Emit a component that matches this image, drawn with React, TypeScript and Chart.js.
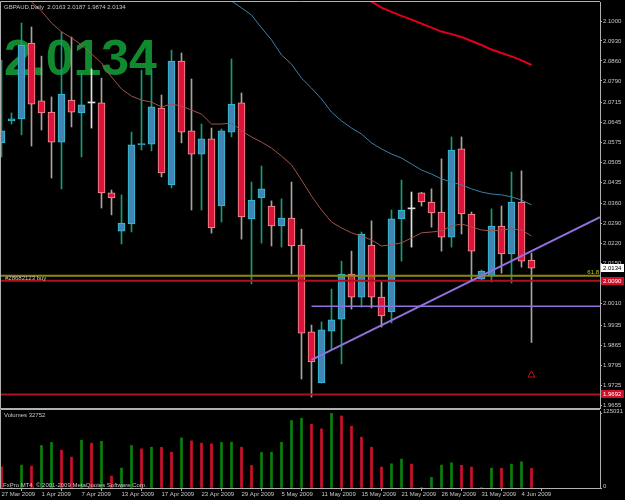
import React, { useEffect, useRef } from 'react';
import { Chart, registerables } from 'chart.js';

Chart.register(...registerables);

// ---------------- data ----------------
const symbolName = 'GBPAUD,Daily';
const xTickLabels = ['27 Mar 2009', '1 Apr 2009', '7 Apr 2009', '13 Apr 2009', '17 Apr 2009', '23 Apr 2009', '29 Apr 2009', '5 May 2009', '11 May 2009', '15 May 2009', '21 May 2009', '26 May 2009', '31 May 2009', '4 Jun 2009'];
const barsPerLabel = 4;

const opens = [2.0573, 2.0650, 2.0657, 2.0923, 2.0720, 2.0681, 2.0576, 2.0723, 2.0678, 2.0713,
  2.0713, 2.0398, 2.0264, 2.0289, 2.0567, 2.0569, 2.0695, 2.0426, 2.0860, 2.0615,
  2.0534, 2.0587, 2.0352, 2.0611, 2.0713, 2.0307, 2.0380, 2.0352, 2.0282, 2.0310,
  2.0215, 1.9911, 1.9732, 1.9914, 1.9956, 2.0114, 2.0033, 2.0215, 2.0033, 1.9981,
  2.0307, 2.0342, 2.0398, 2.0366, 2.0331, 2.0243, 2.0552, 2.0324, 2.0096, 2.0107,
  2.0282, 2.0184, 2.0366, 2.0163];
const highs = [2.0863, 2.0678, 2.0993, 2.0979, 2.0877, 2.0734, 2.0962, 2.0944, 2.0818, 2.0832,
  2.0800, 2.0408, 2.0391, 2.0611, 2.0828, 2.0828, 2.0741, 2.0898, 2.0888, 2.0797,
  2.0639, 2.0625, 2.0622, 2.0867, 2.0748, 2.0436, 2.0492, 2.0370, 2.0377, 2.0436,
  2.0271, 1.9935, 1.9946, 2.0061, 2.0159, 2.0194, 2.0261, 2.0300, 2.0086, 2.0338,
  2.0443, 2.0401, 2.0400, 2.0412, 2.0517, 2.0594, 2.0594, 2.0331, 2.0128, 2.0342,
  2.0352, 2.0471, 2.0475, 2.0187];
const lows = [2.0524, 2.0639, 2.0601, 2.0562, 2.0618, 2.0450, 2.0412, 2.0629, 2.0524, 2.0625,
  2.0345, 2.0321, 2.0219, 2.0261, 2.0548, 2.0545, 2.0454, 2.0415, 2.0573, 2.0338,
  2.0338, 2.0257, 2.0296, 2.0594, 2.0236, 2.0079, 2.0222, 2.0212, 2.0208, 2.0114,
  1.9746, 1.9683, 1.9732, 1.9851, 1.9799, 1.9991, 1.9998, 1.9995, 1.9928, 1.9942,
  2.0159, 2.0208, 2.0352, 2.0278, 2.0194, 2.0208, 2.0254, 2.0093, 2.0093, 2.0086,
  2.0117, 2.0082, 2.0138, 1.9874];
const closes = [2.0615, 2.0657, 2.0916, 2.0709, 2.0678, 2.0576, 2.0744, 2.0681, 2.0706, 2.0713,
  2.0398, 2.0380, 2.0292, 2.0566, 2.0569, 2.0699, 2.0468, 2.0860, 2.0611, 2.0534,
  2.0587, 2.0275, 2.0615, 2.0709, 2.0314, 2.0373, 2.0412, 2.0282, 2.0310, 2.0212,
  1.9907, 1.9806, 1.9918, 1.9953, 2.0114, 2.0033, 2.0254, 2.0033, 1.9967, 2.0307,
  2.0338, 2.0342, 2.0366, 2.0328, 2.0243, 2.0548, 2.0324, 2.0194, 2.0124, 2.0282,
  2.0184, 2.0366, 2.0159, 2.0134];
const volumes = [35500, 800, 38300, 36700, 71200, 76200, 63300, 51700, 80000, 75000,
  78300, 20000, 33300, 71200, 65500, 68300, 68000, 60000, 83900, 78900,
  75000, 73900, 76200, 76700, 68300, 37800, 59500, 60000, 76700, 112900,
  116700, 106700, 98900, 125031, 120500, 103400, 85000, 68300, 35000, 40500,
  48300, 40000, 700, 17800, 38300, 42200, 38000, 35000, 600, 33300,
  33000, 40000, 43900, 32752];
const prevVolume = 41000;

const maFastStart = 2;
const maFast = [2.1102, 2.1067, 2.1035, 2.0993, 2.0962, 2.0941, 2.0916, 2.0885, 2.0853, 2.0804,
  2.0762, 2.0737, 2.0723, 2.0716, 2.0699, 2.0709, 2.0702, 2.0688, 2.0674, 2.0639,
  2.0639, 2.0643, 2.0615, 2.0594, 2.0576, 2.0555, 2.0527, 2.0496, 2.0443, 2.0387,
  2.0338, 2.0296, 2.0275, 2.0258, 2.0247, 2.0233, 2.0212, 2.0216, 2.0223, 2.0240,
  2.0258, 2.0261, 2.0265, 2.0282, 2.0289, 2.0279, 2.0268, 2.0265, 2.0268, 2.0272,
  2.0268, 2.0247];
const maMidStart = 22;
const maMid = [2.1091, 2.1070, 2.1046, 2.1021, 2.0976, 2.0934, 2.0881, 2.0849, 2.0800, 2.0765,
  2.0727, 2.0681, 2.0650, 2.0625, 2.0604, 2.0573, 2.0552, 2.0534, 2.0520, 2.0499,
  2.0478, 2.0464, 2.0447, 2.0436, 2.0426, 2.0412, 2.0401, 2.0394, 2.0391, 2.0384,
  2.0373, 2.0356];
const maSlowStart = 36;
const maSlow = [2.1084, 2.1068, 2.1047, 2.1032, 2.1018, 2.1005, 2.0991, 2.0977, 2.0963, 2.0954,
  2.0944, 2.0930, 2.0916, 2.0900, 2.0888, 2.0876, 2.0862, 2.0846];

const priceTicks = [2.1, 2.093, 2.086, 2.079, 2.0715, 2.0645, 2.0575, 2.0505, 2.0435, 2.036,
  2.029, 2.022, 2.015, 2.008, 2.001, 1.9935, 1.9865, 1.9795, 1.9725, 1.9655];
const stopLevels = [2.0090, 1.9692];
const fiboLevel = 2.0108;
const fiboText = '61.8';
const orderText = '#28682123 buy';
const supportLevel = 2.0001;
const supportStart = 31;
const trendX = [31, 59.85];
const trendY = [1.9813, 2.0313];
const arrowX = [53];
const arrowY = [1.9760];
const volumeTicks = [0, 125031];
const copyright = 'FxPro MT4, \u00a9 2001-2009 MetaQuotes Software Corp.';

// ---------------- ranges & styles ----------------
const X_MIN = -0.15;
const X_MAX = 59.85;
const PRICE_MIN = 1.96445;
const PRICE_MAX = 2.10666;
const VOL_MAX = 128900;

const FONT = '"Liberation Sans", Arial, sans-serif';
const TEXT = '#c8c8c8';
const FRAME = '#b0b0b0';
const BULL_FILL = '#4682b4';
const BULL_EDGE = '#2fc6d6';
const BULL_WICK = '#169a7a';
const BEAR_FILL = '#dc143c';
const BEAR_EDGE = '#f29a9a';
const BEAR_WICK = '#a8a49c';
const DOJI = '#e0e0e0';

const n = opens.length;
const idx = opens.map((_, i) => i);
const dir = idx.map((i) => (closes[i] > opens[i] ? 1 : closes[i] < opens[i] ? -1 : 0));

function lineDs(data: any[], color: string, width: number) {
  return {
    type: 'line',
    data,
    borderColor: color,
    borderWidth: width,
    pointRadius: 0,
    fill: false,
    tension: 0,
    clip: 0,
    order: -1,
  };
}

const mainOverlay = {
  id: 'mainOverlay',
  beforeDatasetsDraw(chart: any) {
    const { ctx, chartArea } = chart;
    ctx.save();
    ctx.font = `bold 50px ${FONT}`;
    ctx.fillStyle = '#11892e';
    ctx.textAlign = 'left';
    ctx.textBaseline = 'alphabetic';
    ctx.fillText(closes[n - 1].toFixed(4), chartArea.left + 4, 75);
    ctx.restore();
  },
  afterDraw(chart: any) {
    const { ctx, chartArea: a, scales } = chart;
    const y = scales.y;
    ctx.save();
    ctx.strokeStyle = FRAME;
    ctx.lineWidth = 1;
    ctx.beginPath();
    ctx.moveTo(a.left + 0.5, a.bottom + 0.5);
    ctx.lineTo(a.left + 0.5, a.top - 0.5);
    ctx.lineTo(a.right, a.top - 0.5);
    ctx.moveTo(a.left, a.bottom + 0.5);
    ctx.lineTo(a.right, a.bottom + 0.5);
    ctx.stroke();

    ctx.font = `6px ${FONT}`;
    ctx.fillStyle = TEXT;
    ctx.textAlign = 'left';
    ctx.textBaseline = 'middle';
    const last = n - 1;
    ctx.fillText(
      `${symbolName}  ${opens[last].toFixed(4)} ${highs[last].toFixed(4)} ${lows[last].toFixed(4)} ${closes[last].toFixed(4)}`,
      a.left + 4, a.top + 5
    );

    const fy = y.getPixelForValue(fiboLevel);
    ctx.fillStyle = '#c8c800';
    ctx.textAlign = 'right';
    ctx.textBaseline = 'bottom';
    ctx.fillText(fiboText, a.right - 1, fy);
    ctx.fillStyle = '#c8c8a8';
    ctx.textAlign = 'left';
    ctx.textBaseline = 'middle';
    ctx.fillText(orderText, a.left + 5, fy + 2.5);

    const box = (v: number, bg: string, fg: string) => {
      const py = Math.round(y.getPixelForValue(v));
      ctx.fillStyle = bg;
      ctx.fillRect(a.right + 1, py - 4, 23, 8);
      ctx.fillStyle = fg;
      ctx.textAlign = 'left';
      ctx.textBaseline = 'middle';
      ctx.fillText(v.toFixed(4), a.right + 3, py + 0.5);
    };
    stopLevels.forEach((v) => box(v, '#d0102a', '#ffffff'));
    box(closes[last], '#ffffff', '#000000');
    ctx.restore();
  },
};

const volOverlay = {
  id: 'volOverlay',
  afterDraw(chart: any) {
    const { ctx, chartArea: a } = chart;
    ctx.save();
    ctx.strokeStyle = FRAME;
    ctx.lineWidth = 1;
    ctx.beginPath();
    ctx.moveTo(a.left + 0.5, a.bottom);
    ctx.lineTo(a.left + 0.5, 0.5);
    ctx.lineTo(a.right, 0.5);
    ctx.stroke();
    ctx.font = `6px ${FONT}`;
    ctx.fillStyle = TEXT;
    ctx.textAlign = 'left';
    ctx.textBaseline = 'middle';
    ctx.fillText(`Volumes ${volumes[n - 1]}`, a.left + 4, a.top + 4);
    ctx.fillText(copyright, a.left + 3, a.bottom - 3);
    ctx.restore();
  },
};

function mainConfig(): any {
  const bodyData = idx.map((i) => ({ x: i, y: [opens[i], closes[i]] }));
  const wickData = idx.map((i) => ({ x: i, y: [lows[i], highs[i]] }));
  const toPts = (start: number, arr: number[]) => arr.map((v, k) => ({ x: start + k, y: v }));
  return {
    type: 'bar',
    data: {
      datasets: [
        lineDs(toPts(maSlowStart, maSlow), '#e0001c', 2),
        lineDs(toPts(maMidStart, maMid), '#3f7fa6', 1),
        lineDs(toPts(maFastStart, maFast), '#a0524a', 1),
        lineDs([{ x: trendX[0], y: trendY[0] }, { x: trendX[1], y: trendY[1] }], '#9370db', 2),
        lineDs([{ x: supportStart, y: supportLevel }, { x: X_MAX, y: supportLevel }], '#9370db', 1.5),
        lineDs([{ x: X_MIN, y: fiboLevel }, { x: X_MAX, y: fiboLevel }], '#8a8a12', 2),
        ...stopLevels.map((v) => lineDs([{ x: X_MIN, y: v }, { x: X_MAX, y: v }], '#b0101e', 2)),
        {
          type: 'line',
          data: arrowX.map((x, k) => ({ x, y: arrowY[k] })),
          showLine: false,
          pointStyle: 'triangle',
          pointRadius: 4,
          pointBorderColor: '#c81010',
          pointBackgroundColor: 'rgba(0,0,0,0)',
          pointBorderWidth: 1,
          order: -1,
        },
        {
          type: 'bar',
          data: bodyData,
          backgroundColor: dir.map((d) => (d > 0 ? BULL_FILL : d < 0 ? BEAR_FILL : DOJI)),
          borderColor: dir.map((d) => (d > 0 ? BULL_EDGE : d < 0 ? BEAR_EDGE : DOJI)),
          borderWidth: dir.map((d) => (d === 0 ? 0 : 1)),
          borderSkipped: false,
          barThickness: 7,
          minBarLength: 1,
          grouped: false,
          order: 0,
        },
        {
          type: 'bar',
          data: wickData,
          backgroundColor: dir.map((d) => (d > 0 ? BULL_WICK : d < 0 ? BEAR_WICK : DOJI)),
          borderWidth: 0,
          barThickness: 1,
          grouped: false,
          order: 1,
        },
      ],
    },
    options: {
      animation: false,
      responsive: false,
      maintainAspectRatio: false,
      devicePixelRatio: 1,
      events: [],
      layout: { autoPadding: false, padding: { top: 2, bottom: 2, left: 0, right: 0 } },
      plugins: { legend: { display: false }, tooltip: { enabled: false }, title: { display: false } },
      scales: {
        x: { type: 'linear', min: X_MIN, max: X_MAX, offset: false, display: false },
        y: {
          type: 'linear',
          position: 'right',
          min: PRICE_MIN,
          max: PRICE_MAX,
          afterBuildTicks: (s: any) => { s.ticks = priceTicks.map((v) => ({ value: v })); },
          afterFit: (s: any) => { s.width = 25; s.paddingTop = 0; s.paddingBottom = 0; },
          ticks: {
            color: TEXT,
            font: { family: FONT, size: 6 },
            padding: 1,
            autoSkip: false,
            callback: (v: any) => Number(v).toFixed(4),
          },
          grid: { drawOnChartArea: false, drawTicks: true, tickLength: 2, color: FRAME },
          border: { display: true, color: FRAME, width: 1 },
        },
      },
    },
    plugins: [mainOverlay],
  };
}

function volConfig(): any {
  const colors = volumes.map((v, i) => ((i === 0 ? prevVolume : volumes[i - 1]) < v ? '#0b800b' : '#d0102a'));
  return {
    type: 'bar',
    data: {
      datasets: [
        {
          data: volumes.map((v, i) => ({ x: i, y: v })),
          backgroundColor: colors,
          borderWidth: 0,
          barThickness: 2,
          grouped: false,
        },
      ],
    },
    options: {
      animation: false,
      responsive: false,
      maintainAspectRatio: false,
      devicePixelRatio: 1,
      events: [],
      layout: { autoPadding: false, padding: { top: 2, bottom: 0, left: 0, right: 0 } },
      plugins: { legend: { display: false }, tooltip: { enabled: false }, title: { display: false } },
      scales: {
        x: {
          type: 'linear',
          min: X_MIN,
          max: X_MAX,
          offset: false,
          afterBuildTicks: (s: any) => { s.ticks = xTickLabels.map((_, k) => ({ value: k * barsPerLabel })); },
          afterFit: (s: any) => { s.height = 12; s.paddingLeft = 0; s.paddingRight = 0; },
          ticks: {
            color: TEXT,
            font: { family: FONT, size: 6 },
            align: 'start',
            padding: 0,
            maxRotation: 0,
            minRotation: 0,
            autoSkip: false,
            callback: (_v: any, i: number) => xTickLabels[i],
          },
          grid: { drawOnChartArea: false, drawTicks: true, tickLength: 3, color: FRAME },
          border: { display: true, color: FRAME, width: 1 },
        },
        y: {
          type: 'linear',
          position: 'right',
          min: 0,
          max: VOL_MAX,
          afterBuildTicks: (s: any) => { s.ticks = volumeTicks.map((v) => ({ value: v })); },
          afterFit: (s: any) => { s.width = 25; s.paddingTop = 0; s.paddingBottom = 0; },
          ticks: {
            color: TEXT,
            font: { family: FONT, size: 6 },
            padding: 1,
            autoSkip: false,
            labelOffset: -2,
            callback: (v: any) => String(v),
          },
          grid: { drawOnChartArea: false, drawTicks: true, tickLength: 2, color: FRAME },
          border: { display: true, color: FRAME, width: 1 },
        },
      },
    },
    plugins: [volOverlay],
  };
}

export default function App() {
  const mainRef = useRef<HTMLCanvasElement>(null);
  const volRef = useRef<HTMLCanvasElement>(null);
  useEffect(() => {
    const main = new Chart(mainRef.current as HTMLCanvasElement, mainConfig());
    const vol = new Chart(volRef.current as HTMLCanvasElement, volConfig());
    return () => {
      main.destroy();
      vol.destroy();
    };
  }, []);
  return (
    <div style={{ position: 'fixed', left: 0, top: 0, width: 625, height: 500, background: '#000', overflow: 'hidden' }}>
      <canvas ref={mainRef} width={625} height={410} style={{ position: 'absolute', left: 0, top: 0, width: 625, height: 410 }} />
      <canvas ref={volRef} width={625} height={91} style={{ position: 'absolute', left: 0, top: 409, width: 625, height: 91 }} />
    </div>
  );
}
